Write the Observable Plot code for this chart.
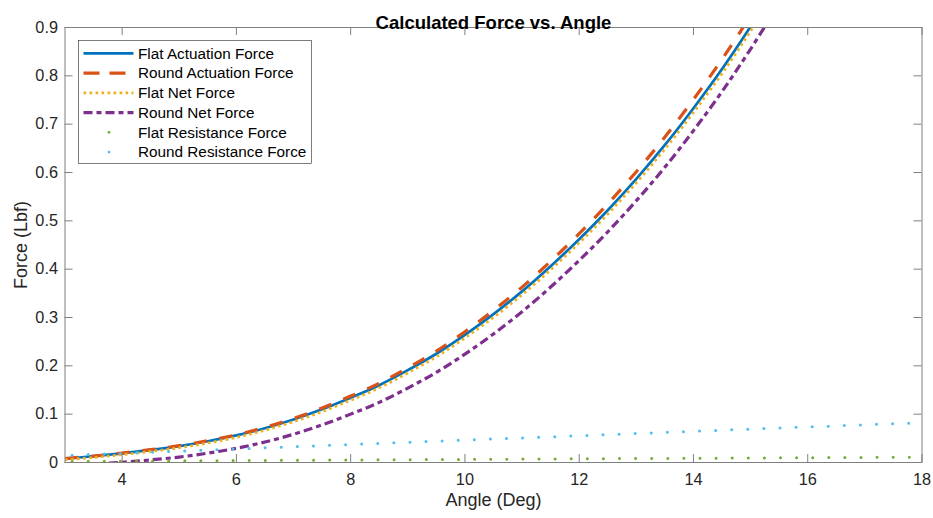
<!DOCTYPE html>
<html>
<head>
<meta charset="utf-8">
<script src="https://cdn.jsdelivr.net/npm/d3@7"></script>
<script src="https://cdn.jsdelivr.net/npm/@observablehq/plot@0.6"></script>
<style>
  body { margin: 0; background: #fff; }
  #chart { position: relative; width: 933px; height: 518px; }
  #legend { position: absolute; left: 0; top: 0; pointer-events: none; }
</style>
</head>
<body>
<div id="chart"></div>
<script>
// Angle samples (degrees) for the force curves
const angle = [3, 3.5, 4, 4.5, 5, 5.5, 6, 6.5, 7, 7.5, 8, 8.5, 9, 9.5, 10, 10.5, 11, 11.5, 12, 12.5, 13, 13.5, 14, 14.5, 15, 15.5];

// Forces (Lbf)
const flatActuation  = [0.008, 0.013, 0.019, 0.026, 0.034, 0.044, 0.056, 0.071, 0.089, 0.110, 0.134, 0.160, 0.191, 0.225, 0.264, 0.307, 0.354, 0.406, 0.462, 0.522, 0.587, 0.657, 0.733, 0.814, 0.902, 0.996];
const roundActuation = [0.0082, 0.0133, 0.0195, 0.0267, 0.0349, 0.0451, 0.0574, 0.0728, 0.0912, 0.1128, 0.1374, 0.164, 0.1958, 0.2306, 0.2706, 0.3147, 0.3629, 0.4162, 0.4736, 0.5351, 0.6017, 0.6734, 0.7513, 0.8344, 0.9246, 1.0209];
const flatNet        = [0.0058, 0.0105, 0.0162, 0.0229, 0.0306, 0.0403, 0.052, 0.0667, 0.0844, 0.1051, 0.1288, 0.1545, 0.1852, 0.2189, 0.2576, 0.3003, 0.347, 0.3987, 0.4544, 0.5141, 0.5788, 0.6485, 0.7242, 0.8049, 0.8926, 0.9863];
const roundNet       = [-0.0063, -0.0035, 0.0005, 0.0054, 0.0113, 0.0193, 0.0294, 0.0424, 0.0585, 0.0778, 0.1001, 0.1244, 0.154, 0.1865, 0.2242, 0.266, 0.312, 0.363, 0.4181, 0.4773, 0.5417, 0.6111, 0.6867, 0.7675, 0.8555, 0.9495];

// Resistance forces over the full angle range
const resAngle        = [3, 4, 5, 6, 7, 8, 9, 10, 11, 12, 13, 14, 15, 16, 17, 18];
const flatResistance  = [0.0022, 0.0028, 0.0034, 0.004, 0.0046, 0.0052, 0.0058, 0.0064, 0.007, 0.0076, 0.0082, 0.0088, 0.0094, 0.01, 0.0106, 0.0112];
const roundResistance = [0.0145, 0.019, 0.0236, 0.028, 0.0327, 0.0373, 0.0418, 0.0464, 0.0509, 0.0555, 0.06, 0.0646, 0.0691, 0.0737, 0.078, 0.0825];

const xTicks = [4, 6, 8, 10, 12, 14, 16, 18];
const yTicks = [0, 0.1, 0.2, 0.3, 0.4, 0.5, 0.6, 0.7, 0.8, 0.9];

const seriesNames = ["Flat Actuation Force", "Round Actuation Force", "Flat Net Force", "Round Net Force", "Flat Resistance Force", "Round Resistance Force"];

const series = [
  {name: seriesNames[0], xs: angle, ys: flatActuation,  color: "#0072BD", width: 2.7, dash: null},
  {name: seriesNames[1], xs: angle, ys: roundActuation, color: "#D95319", width: 3.2, dash: "13,13", legendDash: "16,10"},
  {name: seriesNames[2], xs: angle, ys: flatNet,        color: "#EDB120", width: 2.7, dash: "2.7,3.3"},
  {name: seriesNames[3], xs: angle, ys: roundNet,       color: "#7E2F8E", width: 3.2, dash: "9,4,5,4"},
  {name: seriesNames[4], xs: resAngle, ys: flatResistance,  color: "#77AC30", width: 3, dash: "0,16.1", dot: true},
  {name: seriesNames[5], xs: resAngle, ys: roundResistance, color: "#4DBEEE", width: 3, dash: "0,16.1", dot: true}
];

const W = 933, H = 518;
const mL = 64.5, mR = 11.5, mT = 27, mB = 56;
const frameW = W - mL - mR, frameH = H - mT - mB;
const tickLen = 8;
const axisColor = "#808080";
const textColor = "#262626";
const font = "'Liberation Sans', Arial, Helvetica, sans-serif";

const lineMarks = series.map(s => Plot.line(
  s.xs.map((x, i) => ({x, y: s.ys[i]})),
  {
    x: "x", y: "y",
    stroke: s.color,
    strokeWidth: s.width,
    strokeDasharray: s.dash,
    strokeDashoffset: s.dot ? 9 : 0,
    strokeLinecap: s.dot ? "round" : "butt",
    curve: s.dot ? "linear" : "catmull-rom",
    clip: true
  }
));

const chart = Plot.plot({
  width: W,
  height: H,
  marginLeft: mL,
  marginRight: mR,
  marginTop: mT,
  marginBottom: mB,
  style: {fontFamily: font, fontSize: "16px", color: textColor, background: "#fff", overflow: "visible"},
  x: {domain: [3, 18], label: null},
  y: {domain: [0, 0.9], label: null},
  marks: [
    ...lineMarks,
    // inward tick marks on all four sides
    Plot.tickY(yTicks, {y: d => d, insetRight: frameW - tickLen, stroke: axisColor}),
    Plot.tickY(yTicks, {y: d => d, insetLeft: frameW - tickLen, stroke: axisColor}),
    Plot.tickX(xTicks, {x: d => d, insetTop: frameH - tickLen, stroke: axisColor}),
    Plot.tickX(xTicks, {x: d => d, insetBottom: frameH - tickLen, stroke: axisColor}),
    Plot.frame({stroke: axisColor, strokeWidth: 1}),
    Plot.axisY(yTicks, {tickSize: 0, tickPadding: 7, label: null, fill: textColor, fontSize: 16.3,
      tickFormat: d => d === 0 ? "0" : d3.format(".1f")(d)}),
    Plot.axisX(xTicks, {tickSize: 0, tickPadding: 10.5, label: null, fill: textColor, fontSize: 16.3,
      tickFormat: d => String(d)}),
    Plot.text(["Calculated Force vs. Angle"], {text: d => d, frameAnchor: "top", dy: -12,
      fontWeight: "bold", fontSize: 18.5, fill: "#000"}),
    Plot.text(["Angle (Deg)"], {text: d => d, frameAnchor: "bottom", dy: 43, fontSize: 18, fill: textColor}),
    Plot.text(["Force (Lbf)"], {text: d => d, frameAnchor: "left", textAnchor: "middle", dx: -44, rotate: -90,
      fontSize: 18, fill: textColor})
  ]
});

const container = document.getElementById("chart");
container.appendChild(chart);

// Legend box in the upper-left corner of the axes
const legend = d3.select(container).append("svg")
  .attr("id", "legend")
  .attr("width", W).attr("height", H)
  .style("font-family", font);

const box = {x: 78.5, y: 40.5, w: 233, h: 123};
legend.append("rect")
  .attr("x", box.x).attr("y", box.y).attr("width", box.w).attr("height", box.h)
  .attr("fill", "#fff").attr("stroke", "#262626").attr("stroke-width", 0.6);

const rowY0 = 53.3, rowStep = 19.75;
const sampleX0 = 83.5, sampleX1 = 133.5, labelX = 138;
series.forEach((s, i) => {
  const y = rowY0 + i * rowStep;
  if (s.dot) {
    legend.append("circle")
      .attr("cx", (sampleX0 + sampleX1) / 2 + 0.5).attr("cy", y)
      .attr("r", 1.4).attr("fill", s.color);
  } else {
    legend.append("line")
      .attr("x1", sampleX0).attr("x2", sampleX1).attr("y1", y).attr("y2", y)
      .attr("stroke", s.color).attr("stroke-width", s.width)
      .attr("stroke-dasharray", s.legendDash || s.dash);
  }
  legend.append("text")
    .attr("x", labelX).attr("y", y).attr("dy", "0.35em")
    .attr("font-size", 15.3).attr("fill", "#000")
    .text(s.name);
});
</script>
</body>
</html>
